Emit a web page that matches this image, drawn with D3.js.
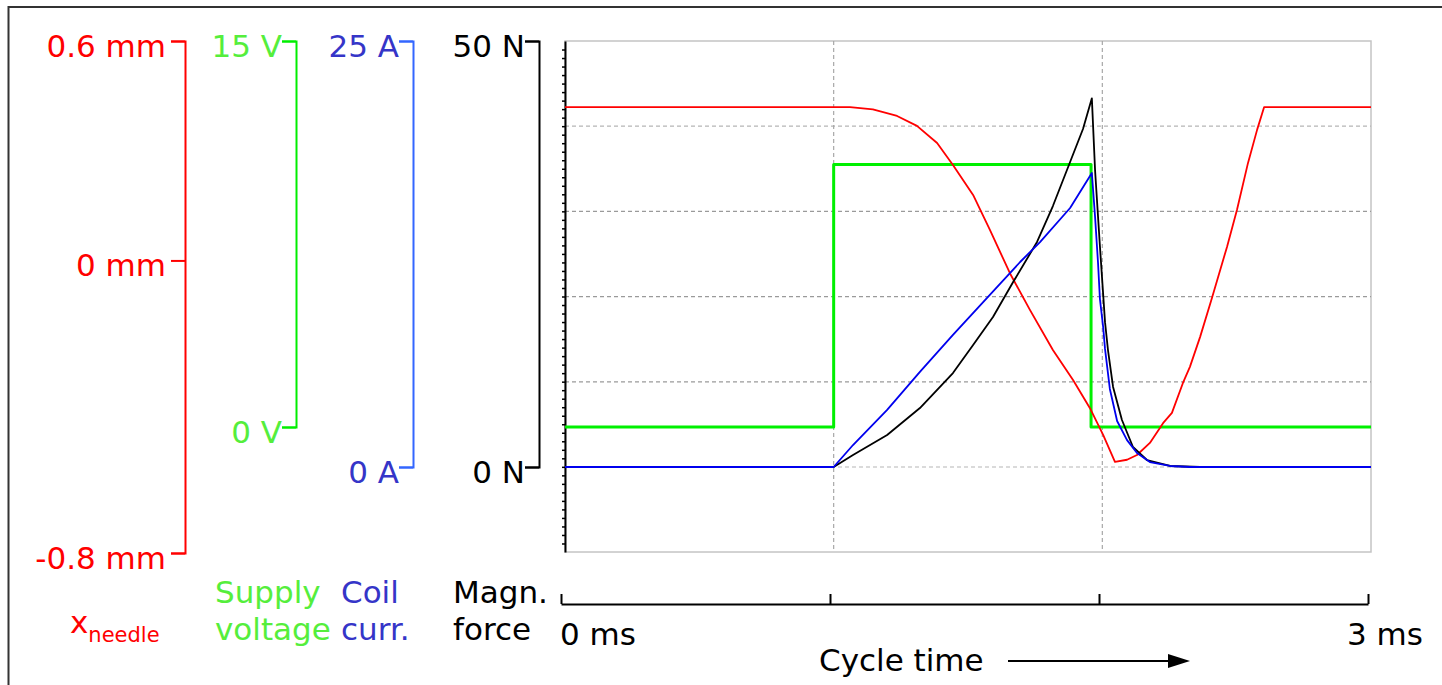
<!DOCTYPE html>
<html>
<head>
<meta charset="utf-8">
<script src="https://cdn.jsdelivr.net/npm/d3@7"></script>
<style>
  html, body { margin: 0; padding: 0; background: #fff; }
  svg { display: block; }
  text { font-family: "DejaVu Sans", Verdana, sans-serif; }
</style>
</head>
<body>
<svg id="chart" width="1442" height="685"></svg>
<script>
// ---------------- DATA ----------------
// time in ms
const needleTime = [0, 1.061, 1.146, 1.236, 1.310, 1.385, 1.444, 1.519, 1.582, 1.656, 1.731, 1.816, 1.891, 1.954, 2.003, 2.047, 2.092, 2.129, 2.177, 2.226, 2.259, 2.300, 2.326, 2.364, 2.408, 2.464, 2.501, 2.542, 2.576, 2.602, 3.0];
const needleMm   = [0.419, 0.419, 0.413, 0.395, 0.368, 0.321, 0.261, 0.179, 0.083, -0.035, -0.136, -0.245, -0.327, -0.404, -0.477, -0.551, -0.545, -0.532, -0.499, -0.445, -0.417, -0.335, -0.291, -0.209, -0.103, 0.037, 0.138, 0.266, 0.357, 0.419, 0.419];

const voltageTime = [0, 1.0, 1.0, 1.958, 1.958, 3.0];
const voltageV    = [0, 0, 10.2, 10.2, 0, 0];

const currentTime = [0, 1.0, 1.072, 1.199, 1.321, 1.444, 1.571, 1.632, 1.694, 1.768, 1.880, 1.961, 1.973, 1.984, 1.991, 2.003, 2.010, 2.028, 2.055, 2.092, 2.129, 2.177, 2.252, 2.326, 3.0];
const currentA    = [0, 0, 1.29, 3.35, 5.58, 7.75, 9.92, 10.97, 12.03, 13.2, 15.2, 17.25, 14.67, 11.97, 9.86, 8.22, 6.93, 4.58, 2.70, 1.58, 0.82, 0.29, 0.06, 0, 0];

const forceTime = [0, 1.0, 1.072, 1.199, 1.321, 1.444, 1.519, 1.593, 1.668, 1.757, 1.816, 1.880, 1.928, 1.961, 1.973, 1.991, 2.010, 2.021, 2.040, 2.073, 2.114, 2.166, 2.252, 2.364, 3.0];
const forceN    = [0, 0, 1.41, 3.76, 6.92, 11.03, 14.32, 17.61, 21.71, 26.41, 30.63, 35.8, 39.67, 43.27, 34.8, 25.94, 17.0, 13.73, 9.39, 5.52, 2.35, 0.82, 0.12, 0, 0];

const needleTicks  = [-0.8, 0, 0.6];
const voltageTicks = [0, 15];
const currentTicks = [0, 25];
const forceTicks   = [0, 50];
const forceGrid    = [0, 10, 20, 30, 40];
const timeGrid     = [1, 2];
const timeTicks    = [0, 1, 2, 3];
const timeLabels   = ["0 ms", "3 ms"];

// ---------------- SETUP ----------------
const svg = d3.select("#chart");
const FONT = 31;
const RED = "#ff0000", GREEN_TXT = "#55ee3c", BLUE = "#0000ee", BLUE_AX = "#3366ff", BLUE_TXT = "#3535c8";

// outer frame
svg.append("rect").attr("x", 8.5).attr("y", 7).attr("width", 1450).attr("height", 700)
  .attr("fill", "none").attr("stroke", "#333").attr("stroke-width", 2);

const plot = { left: 565, right: 1371, top: 41, bottom: 552 };

const x = d3.scaleLinear().domain([0, 3]).range([plot.left, plot.right]);
const yNeedle  = d3.scaleLinear().domain([-0.8, 0.6]).range([553, 41]);
const yVoltage = d3.scaleLinear().domain([0, 15]).range([427, 41]);
const yCurrent = d3.scaleLinear().domain([0, 25]).range([467, 41]);
const yForce   = d3.scaleLinear().domain([0, 50]).range([467, 41]);

// ---------------- SIDE AXES (brackets) ----------------
function bracketAxis(scale, xPos, ticks, fmt, lineColor, textColor, anchorGap) {
  const g = svg.append("g").attr("transform", `translate(${xPos},0)`);
  g.call(d3.axisLeft(scale).tickValues(ticks).tickSize(14).tickFormat(""));
  g.selectAll("path, line").attr("stroke", lineColor).attr("stroke-width", 2);
  ticks.forEach(t => {
    g.append("text").attr("x", -14 - anchorGap).attr("y", scale(t) + 16)
      .attr("text-anchor", "end").attr("font-size", FONT).attr("fill", textColor)
      .text(fmt(t));
  });
  return g;
}
bracketAxis(yNeedle, 185, needleTicks, d => `${d} mm`, RED, RED, 5);
bracketAxis(yVoltage, 296, voltageTicks, d => `${d} V`, "#00ee00", GREEN_TXT, 0);
bracketAxis(yCurrent, 413, currentTicks, d => `${d} A`, BLUE_AX, BLUE_TXT, 0);
bracketAxis(yForce, 539, forceTicks, d => `${d} N`, "#000", "#000", 0);

// ---------------- PLOT AREA ----------------
svg.append("rect").attr("x", plot.left).attr("y", plot.top)
  .attr("width", plot.right - plot.left).attr("height", plot.bottom - plot.top)
  .attr("fill", "none").attr("stroke", "#c4c4c4").attr("stroke-width", 1.5);

const grid = svg.append("g");
grid.selectAll("line.h").data(forceGrid).join("line")
  .attr("x1", plot.left).attr("x2", plot.right)
  .attr("y1", d => yForce(d)).attr("y2", d => yForce(d))
  .attr("stroke", d => (d === 0 || d === 40) ? "#b5b5b5" : "#9a9a9a")
  .attr("stroke-width", 1.2).attr("stroke-dasharray", "4,3");
grid.selectAll("line.v").data(timeGrid).join("line")
  .attr("x1", d => x(d)).attr("x2", d => x(d))
  .attr("y1", plot.top).attr("y2", plot.bottom)
  .attr("stroke", "#a8a8a8").attr("stroke-width", 1.2).attr("stroke-dasharray", "4,3");

// left black axis with minor ticks
const yMinor = d3.scaleLinear().domain([-10, 50]).range([plot.bottom, plot.top]);
const la = svg.append("g").attr("transform", `translate(${plot.left},0)`)
  .call(d3.axisLeft(yMinor).tickValues(d3.range(-9, 50)).tickSize(3).tickSizeOuter(0).tickFormat(""));
la.selectAll("line").attr("stroke", "#000").attr("stroke-width", 1.5);
la.select(".domain").attr("stroke", "#000").attr("stroke-width", 2);

function series(times, vals, yScale, color, width) {
  const data = times.map((t, i) => [t, vals[i]]);
  svg.append("path").datum(data)
    .attr("fill", "none").attr("stroke", color).attr("stroke-width", width)
    .attr("stroke-linejoin", "round")
    .attr("d", d3.line().x(d => x(d[0])).y(d => yScale(d[1])));
}
series(voltageTime, voltageV, yVoltage, "#00f000", 3);
series(needleTime, needleMm, yNeedle, RED, 1.8);
series(forceTime, forceN, yForce, "#000", 1.8);
series(currentTime, currentA, yCurrent, BLUE, 1.8);

// ---------------- BOTTOM TIME AXIS ----------------
const xAxisScale = d3.scaleLinear().domain([0, 3]).range([561, 1368]);
const ba = svg.append("g").attr("transform", "translate(0,604)")
  .call(d3.axisTop(xAxisScale).tickValues(timeTicks).tickSizeInner(10).tickSizeOuter(0).tickFormat(""));
ba.selectAll("path, line").attr("stroke", "#000").attr("stroke-width", 2);

svg.append("text").attr("x", xAxisScale(0) - 1).attr("y", 645).attr("font-size", FONT)
  .attr("fill", "#000").text(timeLabels[0]);
svg.append("text").attr("x", xAxisScale(3) - 21).attr("y", 645).attr("font-size", FONT)
  .attr("fill", "#000").text(timeLabels[1]);

svg.append("text").attr("x", 819).attr("y", 671).attr("font-size", FONT)
  .attr("fill", "#000").text("Cycle time");
svg.append("line").attr("x1", 1008).attr("x2", 1172).attr("y1", 661).attr("y2", 661)
  .attr("stroke", "#000").attr("stroke-width", 2);
svg.append("path").attr("d", "M1168,654 L1190,661 L1168,668 Z").attr("fill", "#000");

// ---------------- SERIES LABELS ----------------
const xl = svg.append("text").attr("x", 70).attr("y", 633).attr("font-size", FONT).attr("fill", RED);
xl.append("tspan").text("x");
xl.append("tspan").attr("font-size", 21).attr("dy", 9).attr("dx", 0).text("needle");

function twoLine(xp, l1, l2, color) {
  svg.append("text").attr("x", xp).attr("y", 603).attr("font-size", FONT).attr("fill", color).text(l1);
  svg.append("text").attr("x", xp).attr("y", 640).attr("font-size", FONT).attr("fill", color).text(l2);
}
twoLine(215, "Supply", "voltage", GREEN_TXT);
twoLine(341, "Coil", "curr.", BLUE_TXT);
twoLine(453, "Magn.", "force", "#000");
</script>
</body>
</html>
